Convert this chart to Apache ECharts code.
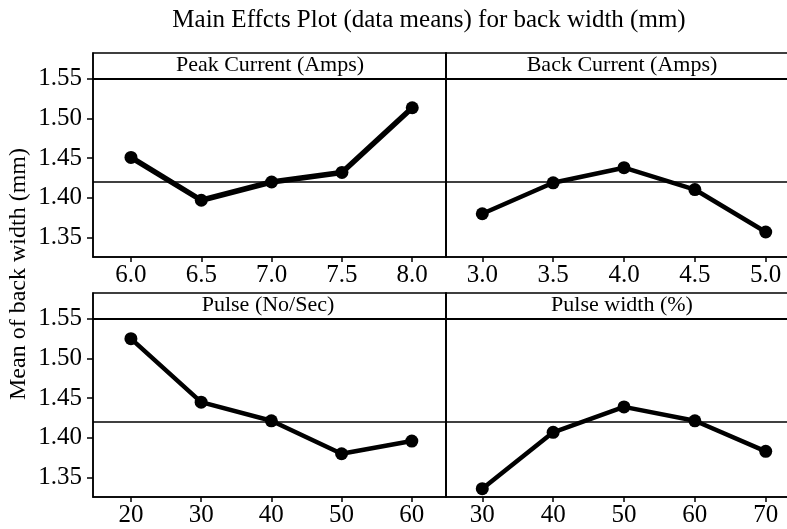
<!DOCTYPE html>
<html>
<head>
<meta charset="utf-8">
<script src="https://cdn.jsdelivr.net/npm/echarts@6/dist/echarts.min.js"></script>
<style>html,body{margin:0;padding:0;background:#fff;overflow:hidden}#c{width:810px;height:529px}</style>
</head>
<body>
<div id="c"></div>
<script>
// ---- data ----
var peakX = [6.0, 6.5, 7.0, 7.5, 8.0];
var peakY = [1.451, 1.397, 1.420, 1.432, 1.5135];
var backX = [3.0, 3.5, 4.0, 4.5, 5.0];
var backY = [1.380, 1.419, 1.438, 1.4105, 1.357];
var pulseX = [20, 30, 40, 50, 60];
var pulseY = [1.525, 1.445, 1.4215, 1.380, 1.396];
var pwX = [30, 40, 50, 60, 70];
var pwY = [1.336, 1.407, 1.439, 1.4215, 1.383];
var yTicks = [1.35, 1.40, 1.45, 1.50, 1.55];
var panelTitles = ['Peak Current (Amps)', 'Back Current (Amps)', 'Pulse (No/Sec)', 'Pulse width (%)'];
var grandMean = 1.4203;
var headerLevel = 1.5535;
var mainTitle = 'Main Effcts Plot (data means) for back width (mm)';
var yName = 'Mean of back width (mm)';

var FONT = "'Liberation Serif','Times New Roman',serif";
var chart = echarts.init(document.getElementById('c'), null, {renderer: 'canvas'});

var grids = [
  {left: 93, top: 53, width: 353, height: 204},
  {left: 446, top: 53, width: 356, height: 204},
  {left: 93, top: 293, width: 353, height: 204},
  {left: 446, top: 293, width: 356, height: 204}
];
var xs = [peakX, backX, pulseX, pwX];
var ys = [peakY, backY, pulseY, pwY];
var xRanges = [[5.73, 8.24], [2.744, 5.256], [14.6, 64.87], [24.88, 75.12]];
var xDec = [1, 1, 0, 0];

var option = {
  backgroundColor: '#fff',
  animation: false,
  grid: grids.map(function (g) {
    return Object.assign({show: true, borderColor: '#000', borderWidth: 1.5, backgroundColor: 'transparent', containLabel: false}, g);
  }),
  xAxis: xs.map(function (arr, i) {
    return {
      type: 'value', gridIndex: i, min: xRanges[i][0], max: xRanges[i][1],
      axisLine: {show: true, onZero: false, lineStyle: {color: '#000', width: 1.5}},
      axisTick: {show: true, inside: false, length: 5, customValues: arr, lineStyle: {color: '#000', width: 1.5}},
      axisLabel: {show: true, margin: 6, customValues: arr, color: '#000', fontFamily: FONT, fontSize: 25,
        formatter: (function (d) { return function (v) { return Number(v).toFixed(d); }; })(xDec[i])},
      splitLine: {show: false}
    };
  }),
  yAxis: xs.map(function (arr, i) {
    var left = (i % 2 === 0);
    return {
      type: 'value', gridIndex: i, min: 1.3255, max: 1.5825,
      axisLine: {show: true, onZero: false, lineStyle: {color: '#000', width: 1.5}},
      axisTick: {show: left, inside: false, length: 6, customValues: yTicks, lineStyle: {color: '#000', width: 1.5}},
      axisLabel: {show: left, margin: 11, customValues: yTicks, color: '#000', fontFamily: FONT, fontSize: 25,
        formatter: function (v) { return Number(v).toFixed(2); }},
      splitLine: {show: false}
    };
  }),
  series: xs.map(function (arr, i) {
    return {
      type: 'line', xAxisIndex: i, yAxisIndex: i,
      data: arr.map(function (x, k) { return [x, ys[i][k]]; }),
      symbol: 'circle', symbolSize: 13, showSymbol: true,
      lineStyle: {color: '#000', width: i === 0 ? 5.5 : 4.5},
      itemStyle: {color: '#000'},
      clip: false,
      markLine: {
        silent: true, symbol: 'none', label: {show: false},
        lineStyle: {color: '#000', width: 1.5, type: 'solid'},
        data: [{yAxis: grandMean}, {yAxis: headerLevel, lineStyle: {width: 2}}]
      },
      z: 3
    };
  }),
  graphic: [
    {type: 'text', x: 429, y: 20, style: {text: mainTitle, font: '25px ' + FONT, fill: '#000', textAlign: 'center', textVerticalAlign: 'middle'}},
    {type: 'text', x: 19, y: 274, rotation: Math.PI / 2, style: {text: yName, font: '24px ' + FONT, fill: '#000', textAlign: 'center', textVerticalAlign: 'middle'}},
    {type: 'text', x: 270, y: 65, style: {text: panelTitles[0], font: '22px ' + FONT, fill: '#000', textAlign: 'center', textVerticalAlign: 'middle'}},
    {type: 'text', x: 622, y: 65, style: {text: panelTitles[1], font: '22px ' + FONT, fill: '#000', textAlign: 'center', textVerticalAlign: 'middle'}},
    {type: 'text', x: 268, y: 305, style: {text: panelTitles[2], font: '22px ' + FONT, fill: '#000', textAlign: 'center', textVerticalAlign: 'middle'}},
    {type: 'text', x: 622, y: 305, style: {text: panelTitles[3], font: '22px ' + FONT, fill: '#000', textAlign: 'center', textVerticalAlign: 'middle'}}
  ]
};
chart.setOption(option);
</script>
</body>
</html>
